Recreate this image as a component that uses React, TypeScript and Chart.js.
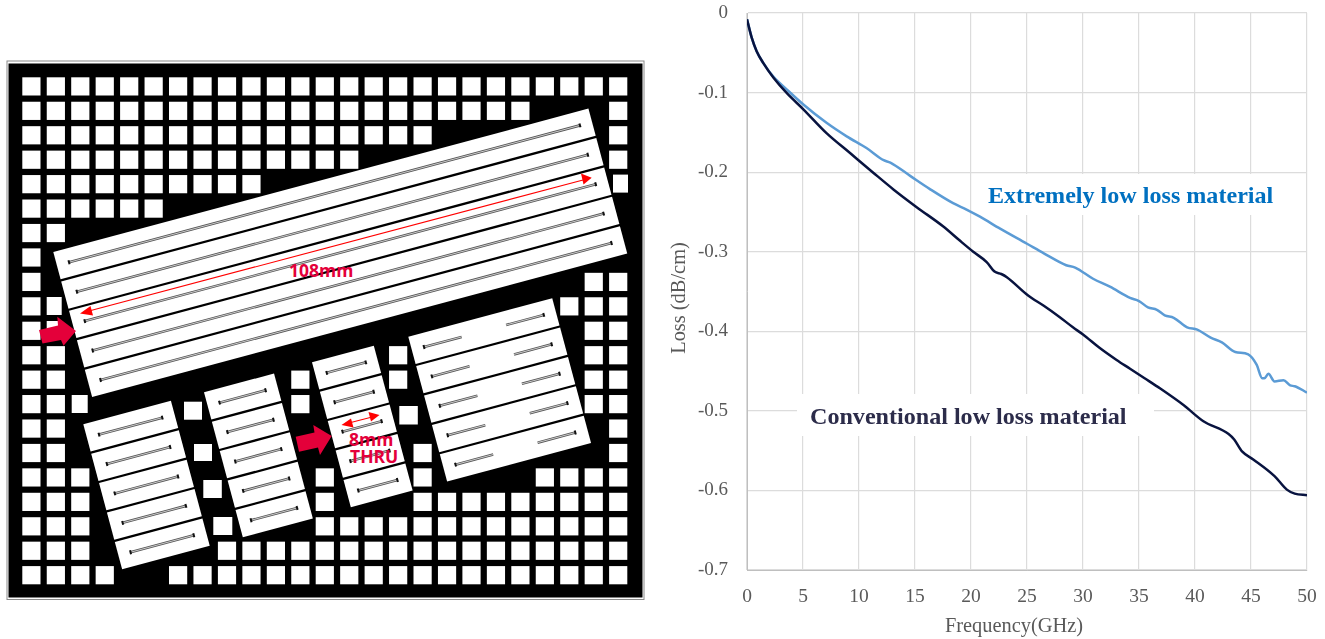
import React, { useEffect, useRef } from "react";
import { Chart, registerables } from "chart.js";

Chart.register(...registerables);

// ---- chart data ----
const conventionalFreq = [0, 0.42, 0.86, 1.46, 2.35, 3.54, 5.03, 7.1, 9.2, 11.3, 13.1, 15.15, 17.5, 19, 20.2, 21.4, 22.1, 22.7, 23.2, 25.1, 26.5, 27.9, 29.1, 30, 31.5, 33, 34.2, 35.5, 36.9, 39, 40.75, 43, 43.5, 44.2, 45.2, 47.1, 48.2, 48.9, 50];
const conventionalLoss = [-0.008, -0.031, -0.048, -0.063, -0.081, -0.1005, -0.121, -0.151, -0.176, -0.201, -0.222, -0.244, -0.268, -0.286, -0.3, -0.313, -0.325, -0.328, -0.332, -0.355, -0.368, -0.382, -0.395, -0.404, -0.421, -0.436, -0.447, -0.459, -0.472, -0.493, -0.513, -0.529, -0.536, -0.551, -0.561, -0.582, -0.599, -0.604, -0.606];
const extremelyFreq = [0, 0.42, 0.86, 1.46, 2.35, 3.54, 5.03, 7.1, 8.9, 10.7, 12.2, 12.8, 14.6, 16.3, 18.4, 19.6, 20.8, 22.6, 25, 26.5, 28.5, 29.3, 30.9, 32.4, 34.2, 35, 35.8, 36.6, 37.3, 38.1, 39.3, 40.2, 41.4, 42.4, 43.6, 44.75, 45.5, 46, 46.2, 46.55, 47.1, 47.9, 48.5, 48.9, 50];
const extremelyLoss = [-0.008, -0.031, -0.048, -0.063, -0.08, -0.096, -0.115, -0.138, -0.155, -0.17, -0.185, -0.188, -0.205, -0.221, -0.239, -0.247, -0.256, -0.271, -0.29, -0.302, -0.317, -0.32, -0.334, -0.344, -0.358, -0.362, -0.37, -0.373, -0.38, -0.383, -0.395, -0.398, -0.408, -0.414, -0.426, -0.429, -0.442, -0.459, -0.459, -0.4535, -0.463, -0.4615, -0.468, -0.469, -0.477];
const xTickLabels = ["0", "5", "10", "15", "20", "25", "30", "35", "40", "45", "50"];
const yTickLabels = ["0", "-0.1", "-0.2", "-0.3", "-0.4", "-0.5", "-0.6", "-0.7"];
const seriesNames = ["Conventional low loss material", "Extremely low loss material"];
const xAxisTitle = "Frequency(GHz)";
const yAxisTitle = "Loss (dB/cm)";

// ---- left-hand layout diagram ----
const range = (a: number, b: number) => Array.from({ length: b - a + 1 }, (_, i) => a + i);
const padRows: number[][] = [
  range(0, 24),
  [...range(0, 20), 24],
  [...range(0, 16), 24],
  [...range(0, 13), 24],
  range(0, 9),
  range(0, 5),
  [0, 1],
  [0],
  [0, 23, 24],
  [0, 22, 23, 24],
  [0, 23, 24],
  [0, 1, 15, 23, 24],
  [0, 1, 11, 15, 23, 24],
  [0, 1, 11, 23, 24],
  [0, 1, 24],
  [0, 1, 16, 24],
  [0, 1, 2, 12, 16, 21, 22, 23, 24],
  [0, 1, 2, 12, ...range(16, 24)],
  [0, 1, 2, ...range(12, 24)],
  [0, 1, 2, ...range(8, 24)],
  [0, 1, 2, 3, ...range(6, 24)],
];
const loosePads = [
  [613, 174.6, 15, 18],
  [46.7, 297, 15, 18],
  [46.7, 321, 15, 18],
  [71.7, 395, 16, 18],
  [184, 401.7, 18, 18],
  [194, 444, 18, 17],
  [203.3, 480, 18.5, 18],
  [213.3, 517, 19, 18],
  [399.3, 406, 18.5, 18.5],
];
const panels = [
  { x: 53.3, y: 252, w: 554, traces: [[12.5, 541.5, 1, 1]] },
  { x: 83.3, y: 424.3, w: 90.7, traces: [[12.5, 78, 1, 1]] },
  { x: 204, y: 392.3, w: 72.5, traces: [[12.3, 60, 1, 1]] },
  { x: 312, y: 362.3, w: 64, traces: [[11.5, 52, 1, 1]] },
  { x: 408.3, y: 336.7, w: 149, traces: [[12.5, 51.5, 1, 0], [97.5, 136.5, 0, 1]] },
];
const stripIndex = [0, 1, 2, 3, 4];
const CRIMSON = "#e4003a";

function Diagram() {
  const cellX = (c: number) => 22.3 + c * 24.45;
  const cellY = (r: number) => 77.3 + r * 24.44;
  return (
    <svg width={650} height={639} style={{ position: "absolute", left: 0, top: 0 }}>
      <rect x={7} y={61} width={637} height={538.5} fill="#fff" stroke="#8a8a8a" strokeWidth={1} />
      <rect x={8.5} y={63.5} width={634} height={534} fill="#000" />
      {padRows.map((row, r) =>
        row.map((c) =>
          r === 4 && c === 24 ? null : (
            <rect key={`${r}-${c}`} x={cellX(c)} y={cellY(r)} width={18.2} height={18.2} fill="#fff" />
          )
        )
      )}
      {loosePads.map(([x, y, w, h], i) => (
        <rect key={i} x={x} y={y} width={w} height={h} fill="#fff" />
      ))}
      {panels.map((p, i) => (
        <g key={i} transform={`translate(${p.x} ${p.y}) rotate(-15)`}>
          {stripIndex.map((s) => (
            <g key={s} transform={`translate(0 ${s * 30.45})`}>
              <rect x={0} y={0} width={p.w} height={28.2} fill="#fff" />
              {p.traces.map(([a, b, ta, tb], t) => (
                <g key={t}>
                  <line x1={a} y1={14} x2={b} y2={14} stroke="#555" strokeWidth={2.6} />
                  <line x1={a} y1={14} x2={b} y2={14} stroke="#ddd" strokeWidth={0.8} />
                  {ta ? <line x1={a} y1={12} x2={a} y2={16} stroke="#111" strokeWidth={2} /> : null}
                  {tb ? <line x1={b} y1={12} x2={b} y2={16} stroke="#111" strokeWidth={2} /> : null}
                </g>
              ))}
            </g>
          ))}
        </g>
      ))}
      <line x1={88} y1={311.2} x2={584} y2={179.8} stroke="#ff0000" strokeWidth={1.1} />
      <polygon points="80,313.5 90.5,306 93,315.5" fill="#ff0000" />
      <polygon points="591.7,177.7 581,173.5 583.5,184.5" fill="#ff0000" />
      <line x1={345} y1={424} x2={376} y2={416} stroke="#ff0000" strokeWidth={1.1} />
      <polygon points="341.5,425 351,418.5 353.5,427.5" fill="#ff0000" />
      <polygon points="379.5,415 368.5,412 371,421.5" fill="#ff0000" />
      <polygon points="39,330 58,325.5 57.3,316.7 76,331 63.5,345.7 61,340 42.5,343.5" fill={CRIMSON} />
      <polygon points="295.7,436.7 314.5,432.5 313.3,425 331.7,436 320,455 318,447.5 299,451.7" fill={CRIMSON} />
      <g fontFamily="'Open Sans'" fontWeight={700} fontSize={17.5} fill={CRIMSON}>
        <text x={289} y={277}>108mm</text>
        <text x={349} y={446}>8mm</text>
        <text x={350} y={462.5}>THRU</text>
      </g>
    </svg>
  );
}

const notesPlugin = {
  id: "materialNotes",
  beforeDatasetsDraw(chart: any) {
    const ctx = chart.ctx;
    ctx.save();
    ctx.fillStyle = "#fff";
    ctx.fillRect(980, 174, 305, 41);
    ctx.fillRect(797, 394, 357, 42);
    ctx.textBaseline = "alphabetic";
    ctx.textAlign = "left";
    ctx.font = "bold 24.1px 'Liberation Serif'";
    ctx.fillStyle = "#0070c0";
    ctx.fillText(seriesNames[1], 988, 203);
    ctx.fillStyle = "#2c2c4a";
    ctx.fillText(seriesNames[0], 810, 424);
    ctx.font = "20.4px 'Liberation Serif'";
    ctx.fillStyle = "#595959";
    ctx.textAlign = "center";
    ctx.textBaseline = "middle";
    ctx.fillText(xAxisTitle, 1014, 627);
    ctx.translate(680, 298);
    ctx.rotate(-Math.PI / 2);
    ctx.fillText(yAxisTitle, 0, 0);
    ctx.restore();
  },
};

export default function App() {
  const ref = useRef<HTMLCanvasElement | null>(null);
  useEffect(() => {
    if (!ref.current) return;
    const chart = new Chart(ref.current, {
      type: "line",
      plugins: [notesPlugin],
      data: {
        datasets: [
          {
            label: seriesNames[0],
            data: conventionalFreq.map((x, i) => ({ x, y: conventionalLoss[i] })),
            borderColor: "#08133f",
            borderWidth: 2.5,
            pointRadius: 0,
            cubicInterpolationMode: "monotone",
          },
          {
            label: seriesNames[1],
            data: extremelyFreq.map((x, i) => ({ x, y: extremelyLoss[i] })),
            borderColor: "#5b9bd5",
            borderWidth: 2.5,
            pointRadius: 0,
            cubicInterpolationMode: "monotone",
          },
        ],
      },
      options: {
        responsive: false,
        animation: false,
        layout: { padding: { left: 669, right: 18, top: 13, bottom: 0 } },
        plugins: { legend: { display: false }, tooltip: { enabled: false } },
        scales: {
          x: {
            type: "linear",
            min: 0,
            max: 50,
            afterFit: (s: any) => { s.height = 69; s.paddingLeft = 0; s.paddingRight = 0; },
            afterBuildTicks: (s: any) => { s.ticks = xTickLabels.map((v) => ({ value: Number(v) })); },
            grid: { color: "#dcdcdc", lineWidth: 1.2, drawTicks: false },
            border: { color: "#bfbfbf", width: 1 },
            ticks: {
              padding: 15,
              color: "#595959",
              maxRotation: 0,
              autoSkip: false,
              font: { family: "'Liberation Serif'", size: 19.5 },
              callback: (v: any) => String(v),
            },
          },
          y: {
            type: "linear",
            min: -0.7,
            max: 0,
            afterFit: (s: any) => { s.width = 78; s.paddingTop = 0; s.paddingBottom = 0; },
            afterBuildTicks: (s: any) => { s.ticks = yTickLabels.map((v) => ({ value: Number(v) })); },
            grid: { color: "#dcdcdc", lineWidth: 1.2, drawTicks: false },
            border: { color: "#bfbfbf", width: 1 },
            ticks: {
              padding: 19,
              color: "#595959",
              autoSkip: false,
              font: { family: "'Liberation Serif'", size: 19 },
              callback: (v: any) => String(Math.round(v * 10) / 10),
            },
          },
        },
      },
    } as any);
    return () => chart.destroy();
  }, []);
  return (
    <div style={{ position: "absolute", left: 0, top: 0, width: 1325, height: 639, background: "#fff", overflow: "hidden" }}>
      <Diagram />
      <canvas ref={ref} width={1325} height={639} style={{ position: "absolute", left: 0, top: 0, display: "block" }} />
    </div>
  );
}
